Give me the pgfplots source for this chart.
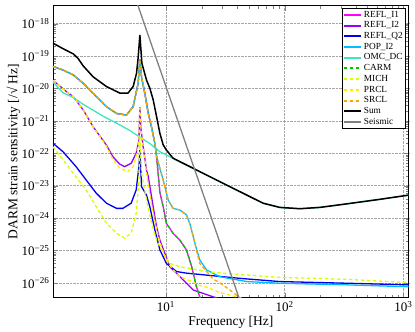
\documentclass[border=0pt]{standalone}
\usepackage{fontspec}
\setmainfont{Liberation Serif}
\usepackage{pgfplots}
\pgfplotsset{compat=1.18}

\definecolor{crefli}{RGB}{255,0,255}
\definecolor{creflii}{RGB}{150,0,255}
\definecolor{creflq}{RGB}{0,0,240}
\definecolor{cpop}{RGB}{0,190,255}
\definecolor{comc}{RGB}{60,230,190}
\definecolor{ccarm}{RGB}{0,200,0}
\definecolor{cmich}{RGB}{215,255,0}
\definecolor{cprcl}{RGB}{255,235,0}
\definecolor{csrcl}{RGB}{255,165,0}
\definecolor{cseis}{RGB}{128,128,128}

\begin{document}
\begin{tikzpicture}
\begin{axis}[
    scale only axis,
    width=355.7pt, height=292.2pt,
    xmode=log, ymode=log,
    xmin=1.12, xmax=1110,
    ymin=3.49e-27, ymax=3.65e-18,
    xtick={10,100,1000},
    xticklabels={10\textsuperscript{1},10\textsuperscript{2},10\textsuperscript{3}},
    ytick={1e-26,1e-25,1e-24,1e-23,1e-22,1e-21,1e-20,1e-19,1e-18},
    yticklabels={10\textsuperscript{−26},10\textsuperscript{−25},10\textsuperscript{−24},10\textsuperscript{−23},10\textsuperscript{−22},10\textsuperscript{−21},10\textsuperscript{−20},10\textsuperscript{−19},10\textsuperscript{−18}},
    tick label style={font=\fontsize{13}{15}\selectfont},
    label style={font=\fontsize{13.5}{15}\selectfont},
    xlabel={Frequency [Hz]},
    ylabel={DARM strain sensitivity [/√ Hz]},
    ylabel style={at={(axis description cs:-0.111,0.5)}, anchor=center},
    xlabel style={at={(axis description cs:0.5,0)}, anchor=center, yshift=-25pt},
    tick align=inside,
    major tick length=5pt, minor tick length=3pt,
    axis line style={line width=0.8pt},
    grid=major,
    major grid style={densely dotted, gray!70, line width=0.5pt},
    legend style={at={(0.992,0.99)}, anchor=north east, draw=black,
        font=\fontsize{9.3}{10}\selectfont, inner sep=1pt, row sep=0pt,
        nodes={inner ysep=0.5pt, text height=7pt, text depth=2.7pt},
        cells={anchor=west}},
    legend image post style={line width=2pt},
    every axis plot/.append style={line width=1.3pt},
]
% REFL_I1
\addplot[color=crefli] coordinates {(1.12,4.79e-20)(1.36,3.72e-20)(1.66,2.63e-20)(2.01,1.45e-20)(2.44,7.08e-21)(3.16,2.75e-21)(3.84,1.70e-21)(4.66,1.51e-21)(5.30,2.75e-21)(5.84,1.45e-20)(6.04,7.94e-20)(6.24,2.24e-20)(6.65,7.08e-21)(7.09,1.78e-21)(7.58,6.31e-22)(8.08,2.00e-22)(8.35,7.94e-23)(8.9,6.31e-24)(9.49,2.24e-24)(10.1,6.92e-25)(11.5,3.39e-25)(13.1,2.09e-25)(14.9,1.05e-25)(16.5,3.16e-26)(18.1,7.59e-27)(19.3,3.72e-27)(21,1.58e-27)};
\addlegendentry{REFL\_I1}
% REFL_I2
\addplot[color=creflii] coordinates {(1.12,1.78e-20)(1.46,7.94e-21)(1.66,5.62e-21)(2.01,2.19e-21)(2.44,6.61e-22)(3.16,1.78e-22)(3.57,7.94e-23)(4.07,4.68e-23)(4.49,3.89e-23)(5.10,4.90e-23)(5.62,1.00e-22)(5.93,2.51e-22)(6.04,2.63e-21)(6.19,5.01e-22)(6.44,1.58e-22)(6.87,3.02e-23)(7.09,2.00e-23)(7.82,2.24e-24)(8.35,5.37e-25)(8.9,2.09e-25)(10.8,3.16e-26)(14,1.23e-26)(17,6.03e-27)(25,3.72e-27)(35,2.51e-27)};
\addlegendentry{REFL\_I2}
% REFL_Q2
\addplot[color=creflq] coordinates {(1.12,2.04e-22)(1.36,1.12e-22)(1.75,3.89e-23)(2.13,1.51e-23)(2.59,5.89e-24)(3.16,2.88e-24)(3.84,2.00e-24)(4.34,2.00e-24)(5.10,2.88e-24)(5.62,7.41e-24)(5.93,3.89e-23)(6.04,1.26e-22)(6.24,9.33e-24)(6.87,5.13e-24)(7.33,2.24e-24)(8.08,4.27e-25)(8.9,1.05e-25)(10.1,3.98e-26)(12.3,2.24e-26)(14.9,2.00e-26)(22,1.74e-26)(42,1.38e-26)(91,1.10e-26)(333,9.77e-27)(1110,8.71e-27)};
\addlegendentry{REFL\_Q2}
% POP_I2
\addplot[color=cpop] coordinates {(1.12,4.79e-20)(1.36,3.72e-20)(1.66,2.63e-20)(2.01,1.45e-20)(2.44,7.08e-21)(3.16,2.75e-21)(3.84,1.70e-21)(4.66,1.51e-21)(5.30,2.75e-21)(5.84,1.45e-20)(6.04,7.94e-20)(6.24,2.24e-20)(6.65,7.08e-21)(7.09,1.78e-21)(7.58,6.31e-22)(8.08,2.00e-22)(8.35,7.94e-23)(9.49,1.51e-23)(10.45,3.63e-24)(11.5,2.00e-24)(13.1,1.78e-24)(14.9,1.26e-24)(16.0,6.31e-25)(17.0,2.69e-25)(18.1,1.12e-25)(19.3,5.13e-26)(22,2.51e-26)(28.5,1.55e-26)(47.9,1.10e-26)(91,9.77e-27)(333,8.71e-27)(1110,7.59e-27)};
\addlegendentry{POP\_I2}
% OMC_DC
\addplot[color=comc] coordinates {(1.12,1.58e-20)(1.36,7.41e-21)(1.66,5.25e-21)(2.0,3.31e-21)(2.95,1.41e-21)(4.07,7.59e-22)(5.0,5.01e-22)(6.04,3.16e-22)(7.33,2.00e-22)(8.9,1.12e-22)(10.1,8.91e-23)(12.3,6.03e-23)(15.9,3.89e-23)(22.0,2.14e-23)(34.6,9.33e-24)(66,2.88e-24)(91,2.14e-24)(134.5,1.95e-24)(198,2.14e-24)(333,2.75e-24)(635,3.80e-24)(1110,5.13e-24)};
\addlegendentry{OMC\_DC}
% CARM
\addplot[color=ccarm, dash pattern=on 3.5pt off 2.5pt] coordinates {(1.12,4.79e-20)(1.36,3.72e-20)(1.66,2.63e-20)(2.01,1.45e-20)(2.44,7.08e-21)(3.16,2.75e-21)(3.84,1.70e-21)(4.66,1.51e-21)(5.30,2.75e-21)(5.84,1.45e-20)(6.04,7.94e-20)(6.24,2.24e-20)(6.65,7.08e-21)(7.09,1.78e-21)(7.58,6.31e-22)(8.08,2.00e-22)(8.35,7.94e-23)(8.9,6.31e-24)(9.49,2.24e-24)(10.1,6.92e-25)(11.5,3.39e-25)(13.1,2.09e-25)(14.9,1.05e-25)(16.5,3.16e-26)(18.1,7.59e-27)(19.3,3.72e-27)(21,1.58e-27)};
\addlegendentry{CARM}
% MICH
\addplot[color=cmich, dash pattern=on 3.5pt off 2.5pt] coordinates {(1.12,1.58e-22)(1.36,6.31e-23)(1.66,2.40e-23)(2.13,7.41e-24)(2.59,2.24e-24)(3.16,6.92e-25)(3.84,3.39e-25)(4.49,2.40e-25)(5.10,3.39e-25)(5.62,1.41e-24)(5.93,1.58e-23)(6.04,3.16e-22)(6.24,2.51e-23)(6.87,3.63e-24)(7.58,7.08e-25)(8.35,2.09e-25)(9.49,8.13e-26)(10.8,3.98e-26)(13.1,3.16e-26)(22,2.24e-26)(34.6,1.91e-26)(91,1.48e-26)(333,1.29e-26)(1110,1.02e-26)};
\addlegendentry{MICH}
% PRCL
\addplot[color=cprcl, dash pattern=on 3.5pt off 2.5pt] coordinates {(1.12,1.78e-20)(1.46,7.94e-21)(1.66,5.62e-21)(2.01,2.19e-21)(2.44,6.61e-22)(3.16,1.66e-22)(3.57,6.61e-23)(4.07,3.55e-23)(4.79,2.69e-23)(5.30,3.80e-23)(5.62,8.32e-23)(5.93,2.40e-22)(6.04,2.51e-21)(6.19,5.01e-22)(6.44,1.58e-22)(6.87,2.51e-23)(7.33,5.01e-24)(7.82,1.41e-24)(8.35,4.47e-25)(8.9,1.78e-25)(10.1,5.01e-26)(11.5,2.51e-26)(13.1,1.58e-26)(15.9,1.17e-26)(19.3,8.32e-27)(22,7.41e-27)(28.5,5.01e-27)(39.4,3.72e-27)(50,2.82e-27)};
\addlegendentry{PRCL}
% SRCL
\addplot[color=csrcl, dash pattern=on 3.5pt off 2.5pt] coordinates {(1.12,4.79e-20)(1.36,3.72e-20)(1.66,2.63e-20)(2.01,1.45e-20)(2.44,7.08e-21)(3.16,2.75e-21)(3.84,1.70e-21)(4.66,1.51e-21)(5.30,2.75e-21)(5.84,1.45e-20)(6.04,7.94e-20)(6.24,2.24e-20)(6.65,7.08e-21)(7.09,1.78e-21)(7.58,6.31e-22)(8.08,2.00e-22)(8.35,7.94e-23)(9.49,1.51e-23)(10.45,3.63e-24)(11.5,2.00e-24)(13.1,1.78e-24)(14.9,1.26e-24)(16.0,6.31e-25)(17.0,2.69e-25)(18.1,1.00e-25)(19.3,3.98e-26)(25,1.32e-26)(28.5,1.00e-26)(34.6,6.03e-27)(40,3.98e-27)(50,2.24e-27)};
\addlegendentry{SRCL}
% Sum
\addplot[color=black, line width=1.5pt] coordinates {(1.12,2.51e-19)(1.36,1.70e-19)(1.66,1.17e-19)(1.82,8.51e-20)(2.01,5.01e-20)(2.44,2.29e-20)(3.16,1.15e-20)(4.09,7.24e-21)(4.8,7.24e-21)(5.3,1.15e-20)(5.66,2.95e-20)(5.84,8.91e-20)(6.04,4.47e-19)(6.28,6.03e-20)(6.87,1.82e-20)(7.33,1.02e-20)(7.82,4.47e-21)(8.35,1.35e-21)(8.90,4.17e-22)(9.49,1.82e-22)(10.1,1.26e-22)(11.5,7.08e-23)(15.9,3.89e-23)(22.0,2.14e-23)(34.6,9.33e-24)(66,2.88e-24)(91,2.14e-24)(134.5,1.95e-24)(198,2.14e-24)(333,2.75e-24)(635,3.80e-24)(1110,5.13e-24)};
\addlegendentry{Sum}
% Seismic
\addplot[color=cseis] coordinates {(5,1.82e-17)(50,4.57e-28)};
\addlegendentry{Seismic}
\end{axis}
\pgfresetboundingbox
\path ([xshift=-53pt,yshift=-34.3pt]current axis.south west) rectangle ([xshift=6.3pt,yshift=5.5pt]current axis.north east);
\end{tikzpicture}
\end{document}
